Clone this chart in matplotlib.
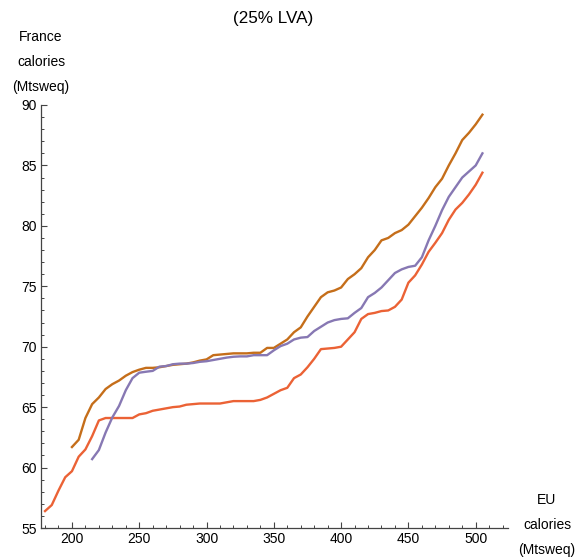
import numpy as np
import matplotlib.pyplot as plt
from matplotlib.ticker import MultipleLocator

plt.rcParams['font.family'] = ['Liberation Sans', 'DejaVu Sans']

# EU calories (Mtsweq), sampled every 5
x_red = np.arange(180, 510, 5)
x_orange = np.arange(200, 510, 5)
x_purple = np.arange(215, 510, 5)

# France calories (Mtsweq)
y_red = [56.4, 56.9, 58.1, 59.2, 59.7, 60.9, 61.5, 62.6, 63.9, 64.1,
         64.1, 64.1, 64.1, 64.1, 64.4, 64.5, 64.7, 64.8, 64.9, 65.0,
         65.05, 65.2, 65.25, 65.3, 65.3, 65.3, 65.3, 65.4, 65.5, 65.5,
         65.5, 65.5, 65.6, 65.8, 66.1, 66.4, 66.6, 67.4, 67.7, 68.3,
         69.0, 69.8, 69.85, 69.9, 70.0, 70.6, 71.2, 72.3, 72.7, 72.8,
         72.95, 73.0, 73.3, 73.9, 75.3, 75.9, 76.8, 77.85, 78.6, 79.4,
         80.5, 81.35, 81.9, 82.6, 83.4, 84.4]
y_orange = [61.7, 62.3, 64.1, 65.25, 65.8, 66.5, 66.9, 67.2, 67.6, 67.9,
            68.1, 68.25, 68.25, 68.3, 68.4, 68.5, 68.55, 68.6, 68.7, 68.85,
            68.95, 69.3, 69.35, 69.4, 69.45, 69.45, 69.45, 69.5, 69.5, 69.9,
            69.9, 70.25, 70.6, 71.2, 71.6, 72.5, 73.3, 74.1, 74.5, 74.65,
            74.9, 75.6, 76.0, 76.5, 77.4, 78.0, 78.8, 79.0, 79.4, 79.65,
            80.1, 80.8, 81.5, 82.3, 83.2, 83.9, 85.0, 86.0, 87.1, 87.7,
            88.4, 89.2]
y_purple = [60.7, 61.45, 62.9, 64.15, 65.1, 66.4, 67.4, 67.85, 67.93, 68.0,
            68.35, 68.4, 68.55, 68.6, 68.6, 68.65, 68.75, 68.8, 68.9, 69.0,
            69.1, 69.17, 69.2, 69.2, 69.3, 69.3, 69.3, 69.7, 70.05, 70.25,
            70.6, 70.75, 70.8, 71.3, 71.65, 72.0, 72.2, 72.3, 72.35, 72.8,
            73.2, 74.1, 74.45, 74.9, 75.5, 76.1, 76.4, 76.6, 76.7, 77.4,
            78.8, 80.0, 81.3, 82.4, 83.2, 84.0, 84.5, 85.0, 86.0]

fig = plt.figure(figsize=(5.77, 5.57), dpi=100)
ax = fig.add_axes([41 / 577, 29 / 557, 467 / 577, 423 / 557])

ax.plot(x_red, y_red, color='#EB6235', lw=1.7, solid_joinstyle='round')
ax.plot(x_orange, y_orange, color='#C56E1A', lw=1.7, solid_joinstyle='round')
ax.plot(x_purple, y_purple, color='#8778B3', lw=1.7, solid_joinstyle='round')

ax.set_xlim(177, 524)
ax.set_ylim(55, 90)
ax.xaxis.set_major_locator(MultipleLocator(50))
ax.xaxis.set_minor_locator(MultipleLocator(10))
ax.yaxis.set_major_locator(MultipleLocator(5))
ax.yaxis.set_minor_locator(MultipleLocator(1))

for s in ['top', 'right']:
    ax.spines[s].set_visible(False)
for s in ['left', 'bottom']:
    ax.spines[s].set_color('#444444')
    ax.spines[s].set_linewidth(0.9)
ax.tick_params(which='major', direction='in', length=4.5, width=0.8,
               color='#444444', labelsize=10, pad=3)
ax.tick_params(which='minor', direction='in', length=2.5, width=0.7,
               color='#444444')

fig.text(273 / 577, 1 - 19 / 557, '(25% LVA)', ha='center', va='center', fontsize=12.3)
fig.text(41 / 577, 1 - 62 / 557, 'France\ncalories\n(Mtsweq)', ha='center',
         va='center', fontsize=10, linespacing=2.0)
fig.text(547 / 577, 1 - 525 / 557, 'EU\ncalories\n(Mtsweq)', ha='center',
         va='center', fontsize=10, linespacing=2.0)

fig.savefig('out.png', dpi=100)
